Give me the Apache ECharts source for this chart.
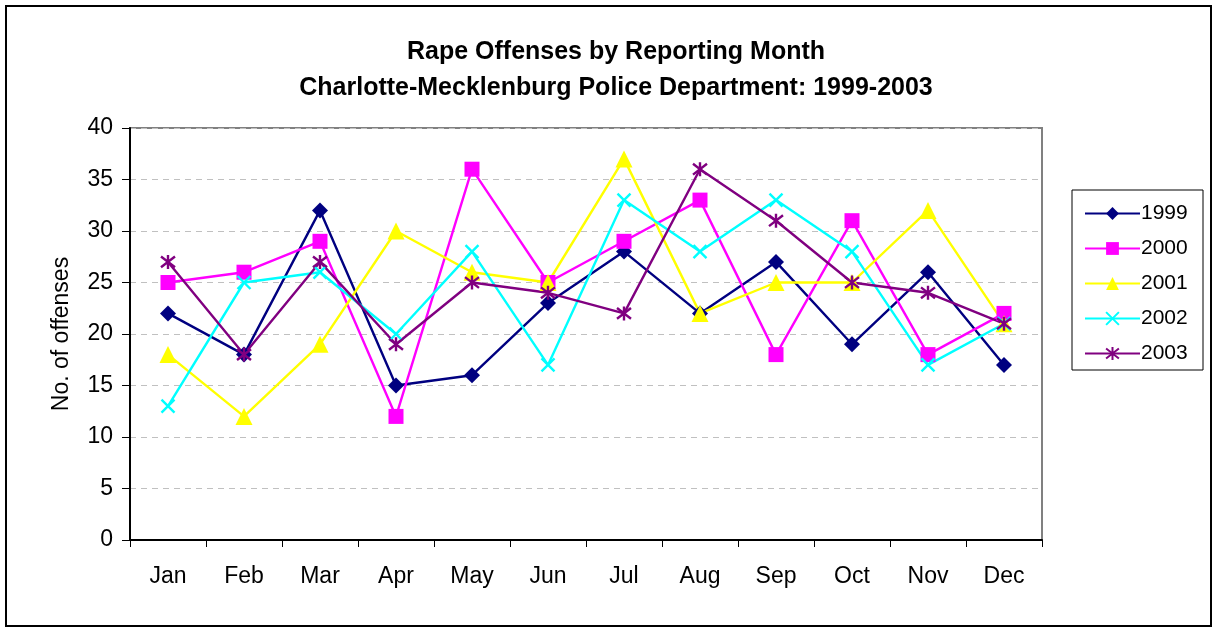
<!DOCTYPE html>
<html lang="en">
  <head>
    <meta charset="utf-8" />
    <title>Rape Offenses by Reporting Month</title>
    <style>
      * {
        margin: 0;
        padding: 0;
      }
      #chart-container {
        position: relative;
        height: 631px;
        width: 1217px;
        overflow: hidden;
        background: #fff;
      }
    </style>
  </head>
  <body>
    <div id="chart-container"></div>
    <script src="https://fastly.jsdelivr.net/npm/echarts@6/dist/echarts.min.js"></script>
    <script>
      // data
      const months = ["Jan", "Feb", "Mar", "Apr", "May", "Jun", "Jul", "Aug", "Sep", "Oct", "Nov", "Dec"];
      const y1999 = [22, 18, 32, 15, 16, 23, 28, 22, 27, 19, 26, 17];
      const y2000 = [25, 26, 29, 12, 36, 25, 29, 33, 18, 31, 18, 22];
      const y2001 = [18, 12, 19, 30, 26, 25, 37, 22, 25, 25, 32, 21];
      const y2002 = [13, 25, 26, 20, 28, 17, 33, 28, 33, 28, 17, 21];
      const y2003 = [27, 18, 27, 19, 25, 24, 22, 36, 31, 25, 24, 21];
      const yTicks = [0, 5, 10, 15, 20, 25, 30, 35, 40];

      const font = "Liberation Sans, Arial, sans-serif";
      const xMark = "path://M0,0L10,10M10,0L0,10";
      const starMark = "path://M0,0L10,10M10,0L0,10M5,-1.5L5,11.5";

      function lineSeries(name, data, color, symbol, size, stroked) {
        return {
          name: name,
          type: "line",
          data: data,
          symbol: symbol,
          symbolSize: size,
          showAllSymbol: true,
          lineStyle: { color: color, width: 2.4 },
          itemStyle: stroked
            ? { color: "rgba(0,0,0,0)", borderColor: color, borderWidth: 2.4 }
            : { color: color, borderColor: color, borderWidth: 0 },
          emphasis: { disabled: true },
          animation: false,
        };
      }

      var dom = document.getElementById("chart-container");
      var myChart = echarts.init(dom, null, { renderer: "canvas" });

      var option = {
        backgroundColor: "#fff",
        animation: false,
        title: {
          text: "Rape Offenses by Reporting Month\nCharlotte-Mecklenburg Police Department: 1999-2003",
          left: 611,
          textAlign: "center",
          top: 29,
          textStyle: {
            fontFamily: font,
            fontSize: 25,
            fontWeight: "bold",
            color: "#000",
            lineHeight: 36,
          },
        },
        graphic: [
          {
            type: "rect",
            shape: { x: 6, y: 6, width: 1205, height: 620 },
            style: { fill: "none", stroke: "#000", lineWidth: 2 },
            z: 100,
          },
          {
            type: "rect",
            shape: { x: 1072, y: 190, width: 131, height: 180 },
            style: { fill: "none", stroke: "#000", lineWidth: 1 },
            z: 100,
          },
        ],
        legend: {
          orient: "vertical",
          left: 1079,
          top: 198,
          itemWidth: 55,
          itemHeight: 16,
          itemGap: 14,
          textStyle: { fontFamily: font, fontSize: 21, color: "#000", padding: [0, 0, 0, -4] },
          data: ["1999", "2000", "2001", "2002", "2003"],
        },
        grid: {
          left: 130,
          right: 175,
          top: 128,
          bottom: 91,
          show: true,
          borderColor: "#808080",
          borderWidth: 2,
          backgroundColor: "#fff",
        },
        xAxis: {
          type: "category",
          data: months,
          boundaryGap: true,
          axisLine: { lineStyle: { color: "#000", width: 2 } },
          axisTick: { show: true, length: 7, lineStyle: { color: "#000", width: 1 } },
          axisLabel: { fontFamily: font, fontSize: 23, color: "#000", margin: 25 },
          splitLine: { show: false },
        },
        yAxis: {
          type: "value",
          min: yTicks[0],
          max: yTicks[yTicks.length - 1],
          interval: 5,
          name: "No. of offenses",
          nameLocation: "middle",
          nameGap: 57,
          nameTextStyle: { fontFamily: font, fontSize: 23, color: "#000" },
          axisLine: { show: true, lineStyle: { color: "#000", width: 2 } },
          axisTick: { show: true, length: 8, lineStyle: { color: "#000", width: 1 } },
          axisLabel: { fontFamily: font, fontSize: 23, color: "#000", margin: 17 },
          splitLine: { show: true, lineStyle: { color: "#c0c0c0", type: [6, 5], width: 1 } },
        },
        series: [
          lineSeries("1999", y1999, "#000080", "diamond", 16, false),
          lineSeries("2000", y2000, "#ff00ff", "rect", 15, false),
          lineSeries("2001", y2001, "#ffff00", "triangle", 17, false),
          lineSeries("2002", y2002, "#00ffff", xMark, 13, true),
          lineSeries("2003", y2003, "#800080", starMark, 14, true),
        ],
      };
      myChart.setOption(option);
      window.addEventListener("resize", myChart.resize);
    </script>
  </body>
</html>
